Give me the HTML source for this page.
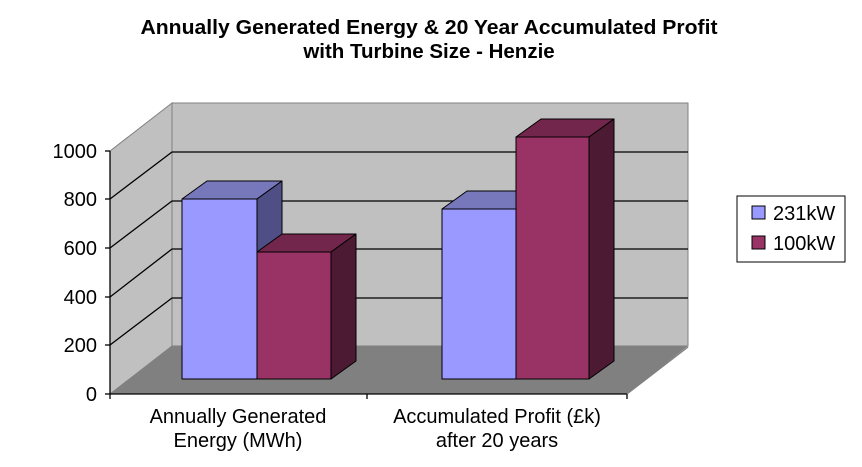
<!DOCTYPE html>
<html><head><meta charset="utf-8"><style>
html,body{margin:0;padding:0;background:#fff;}
svg{display:block;font-family:"Liberation Sans",Arial,sans-serif;}
</style></head><body>
<svg width="862" height="467" viewBox="0 0 862 467" xmlns="http://www.w3.org/2000/svg">
<rect width="862" height="467" fill="#fff"/>
<text x="429" y="34" text-anchor="middle" font-size="20.5" font-weight="bold" textLength="577" lengthAdjust="spacingAndGlyphs">Annually Generated Energy &amp; 20 Year Accumulated Profit</text>
<text x="429" y="58" text-anchor="middle" font-size="20.5" font-weight="bold">with Turbine Size - Henzie</text>
<!-- walls -->
<polygon points="172,103 688,103 688,346 172,346" fill="#c0c0c0" stroke="#808080" stroke-width="1"/>
<polygon points="110,151 172,103 172,346 110,394" fill="#c0c0c0" stroke="#808080" stroke-width="1"/>
<polygon points="110,394 172,346 688,346 627,394" fill="#808080"/>
<g stroke="#000" stroke-width="1.3" fill="none">
<polyline points="110,345 172,298 688,298"/>
<polyline points="110,297 172,249 688,249"/>
<polyline points="110,248 172,201 688,201"/>
<polyline points="110,199 172,152 688,152"/>
<line x1="110" y1="151" x2="110" y2="394"/>
<line x1="110" y1="394" x2="627" y2="394"/>
<line x1="627" y1="394" x2="688" y2="347" stroke="#808080"/>
<line x1="105" y1="394" x2="110" y2="394"/><line x1="105" y1="345" x2="110" y2="345"/>
<line x1="105" y1="297" x2="110" y2="297"/><line x1="105" y1="248" x2="110" y2="248"/>
<line x1="105" y1="199" x2="110" y2="199"/><line x1="105" y1="151" x2="110" y2="151"/>
<line x1="110" y1="394" x2="110" y2="399"/><line x1="367" y1="394" x2="367" y2="399"/><line x1="627" y1="394" x2="627" y2="399"/>
</g>
<g stroke="#000" stroke-width="1" stroke-linejoin="round">
<polygon points="182,199 207,181 282,181 257,199" fill="#7777bb"/>
<polygon points="257,199 282,181 282,361 257,379" fill="#4f4f85"/>
<rect x="182" y="199" width="75" height="180" fill="#9999ff"/>
<polygon points="257,252 282,234 356,234 331,252" fill="#73264c"/>
<polygon points="331,252 356,234 356,361 331,379" fill="#4d1a33"/>
<rect x="257" y="252" width="74" height="127" fill="#993366"/>
<polygon points="442,209 467,191 541,191 516,209" fill="#7777bb"/>
<rect x="442" y="209" width="74" height="170" fill="#9999ff"/>
<polygon points="516,137 541,119 614,119 589,137" fill="#73264c"/>
<polygon points="589,137 614,119 614,361 589,379" fill="#4d1a33"/>
<rect x="516" y="137" width="73" height="242" fill="#993366"/>
</g>
<g font-size="20" text-anchor="end">
<text x="97" y="401">0</text><text x="97" y="352">200</text><text x="97" y="304">400</text>
<text x="97" y="255">600</text><text x="97" y="206">800</text><text x="97" y="158">1000</text>
</g>
<g font-size="20" text-anchor="middle">
<text x="238" y="423">Annually Generated</text><text x="238" y="447">Energy (MWh)</text>
<text x="497" y="423">Accumulated Profit (£k)</text><text x="497" y="447">after 20 years</text>
</g>
<rect x="737" y="196" width="108" height="66" fill="#fff" stroke="#000" stroke-width="1"/>
<rect x="752" y="206" width="13" height="13" fill="#9999ff" stroke="#000"/>
<rect x="752" y="236" width="13" height="13" fill="#993366" stroke="#000"/>
<text x="773" y="220" font-size="20">231kW</text>
<text x="773" y="250" font-size="20">100kW</text>
</svg>
</body></html>
